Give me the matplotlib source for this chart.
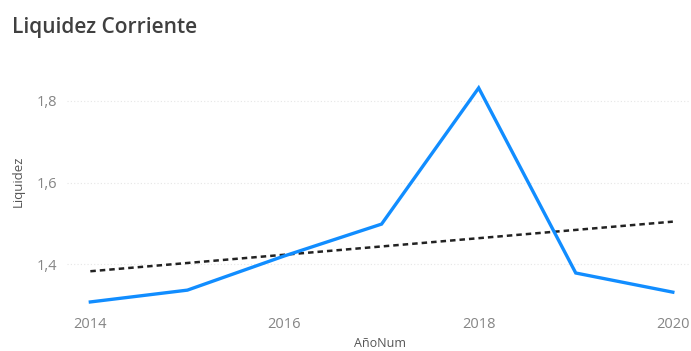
import numpy as np
import matplotlib
matplotlib.use("Agg")
import matplotlib.pyplot as plt

# Current ratio by year
years = [2014, 2015, 2016, 2017, 2018, 2019, 2020]
liquidez = [1.307, 1.336, 1.420, 1.498, 1.832, 1.378, 1.331]
y_ticks = [1.4, 1.6, 1.8]
y_tick_labels = ["1,4", "1,6", "1,8"]
x_ticks = [2014, 2016, 2018, 2020]

plt.rcParams["font.family"] = ["Open Sans", "DejaVu Sans"]

fig = plt.figure(figsize=(6.91, 3.51), dpi=100)
ax = fig.add_axes([0.097, 0.12, 0.902, 0.662])

ax.plot(years, liquidez, color="#118DFF", linewidth=2.4, solid_joinstyle="miter", zorder=3)

# Linear trend line fitted to the series
coef = np.polyfit(years, liquidez, 1)
trend = np.polyval(coef, years)
ax.plot(years, trend, color="#222222", linewidth=1.8, linestyle=(0, (2.2, 1.6)), zorder=2)

ax.set_xlim(2013.76, 2020.18)
ax.set_ylim(1.29, 1.86)
ax.set_yticks(y_ticks)
ax.set_yticklabels(y_tick_labels)
ax.set_xticks(x_ticks)

ax.grid(axis="y", color="#e6e6e6", linestyle=(0, (1, 2)), linewidth=0.8)
ax.grid(axis="x", visible=False)
for s in ax.spines.values():
    s.set_visible(False)
ax.tick_params(length=0, colors="#858585", labelsize=10.5)
ax.tick_params(axis="x", pad=6)
ax.tick_params(axis="y", pad=7)

ax.set_ylabel("Liquidez", fontsize=9.5, color="#555555")
ax.yaxis.set_label_coords(-0.068, 0.55)

fig.text(0.55, 0.004, "AñoNum", fontsize=9, color="#555555", ha="center", va="bottom")

fig.text(0.017, 0.906, "Liquidez Corriente", fontsize=15, fontweight="semibold",
         color="#404040", va="baseline", ha="left")

fig.savefig("out.png", dpi=100, facecolor="white")
